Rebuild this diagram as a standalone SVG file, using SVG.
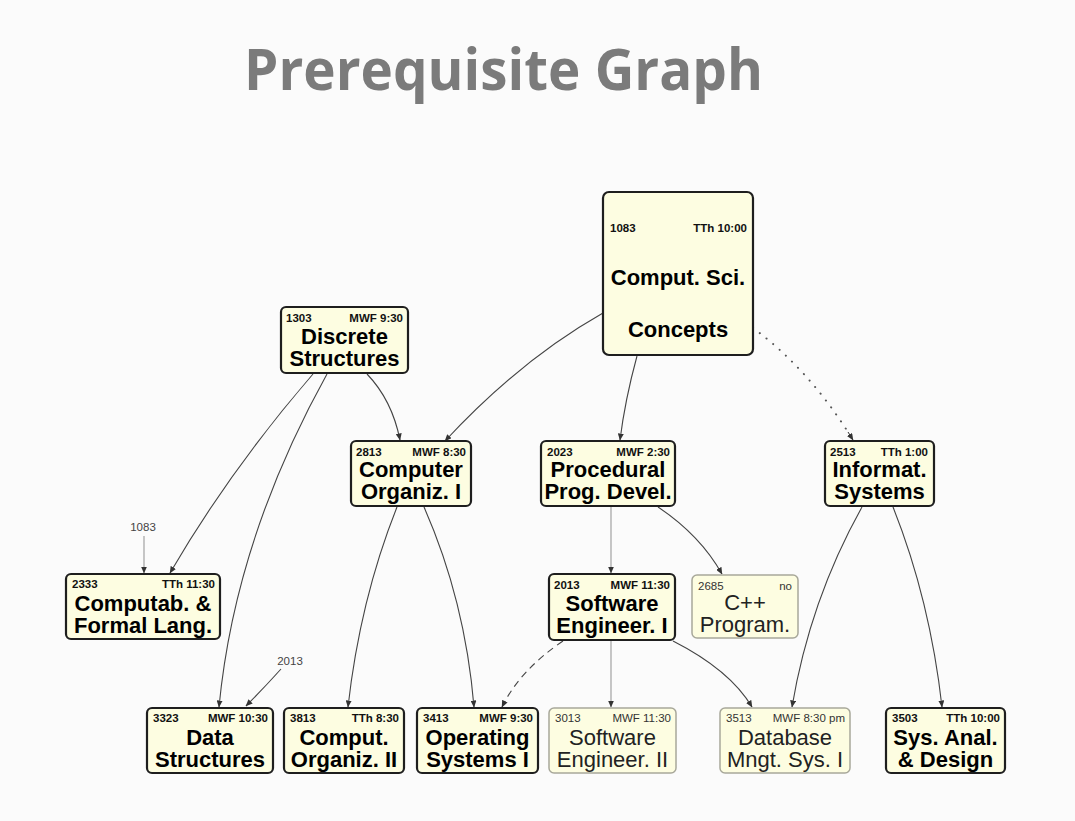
<svg xmlns="http://www.w3.org/2000/svg" width="1075" height="821" viewBox="0 0 1075 821">
<style>
.title{font-family:"Open Sans","DejaVu Sans",sans-serif;font-weight:bold;fill:#7b7b7b}
.box{fill:#fdfde1;stroke:#1e1e1e;stroke-width:2.2}
.lbox{fill:#fdfde1;stroke:#a8a89a;stroke-width:1.5}
.sm{font-family:"Liberation Sans",Arial,sans-serif;font-size:11.5px;font-weight:bold;fill:#111}
.lsm{font-family:"Liberation Sans",Arial,sans-serif;font-size:11.5px;fill:#333}
.big{font-family:"Liberation Sans",Arial,sans-serif;font-size:22px;font-weight:bold;fill:#000;text-anchor:middle}
.lbig{font-family:"Liberation Sans",Arial,sans-serif;font-size:22px;fill:#222;text-anchor:middle}
.end{text-anchor:end}
.e{fill:none;stroke:#444;stroke-width:1.1;marker-end:url(#ah)}
.g{fill:none;stroke:#9a9a9a;stroke-width:1.1;marker-end:url(#ah)}
.ext{font-family:"Liberation Sans",Arial,sans-serif;font-size:11.5px;fill:#444;text-anchor:middle}
</style>
<defs>
<marker id="ah" markerUnits="userSpaceOnUse" markerWidth="7" markerHeight="6" refX="6.5" refY="3" orient="auto">
<path d="M0,0 L7,3 L0,6 z" fill="#333"/>
</marker>
</defs>
<rect width="1075" height="821" fill="#fbfbfb"/>
<text class="title" x="244" y="90" font-size="58" textLength="519" lengthAdjust="spacingAndGlyphs">Prerequisite Graph</text>

<g id="connectors">
<path class="e" d="M603,313 Q520,360 445,441"/>
<path class="e" d="M637,356 Q625,400 620,440"/>
<path fill="none" stroke="#555" stroke-width="2" stroke-linecap="round" stroke-dasharray="0.1 8.5" d="M753,328 Q810,370 853,440"/>
<path fill="none" stroke="#333" stroke-width="1" marker-end="url(#ah)" d="M848,432 L853,440"/>
<path class="e" d="M367,374 Q392,400 400,440"/>
<path class="e" d="M313,374 Q230,470 170,573"/>
<path class="e" d="M327,374 Q235,540 219,707"/>
<path class="e" d="M397,507 Q360,600 348,707"/>
<path class="e" d="M424,507 Q465,600 474,707"/>
<path class="g" d="M611,507 L611,573"/>
<path class="e" d="M658,507 Q700,535 722,574"/>
<path class="e" stroke-dasharray="7 5" d="M563,641 Q520,670 502,707"/>
<path class="g" d="M611,641 L611,707"/>
<path class="e" d="M673,641 Q730,670 752,707"/>
<path class="e" d="M862,507 Q810,600 792,707"/>
<path class="e" d="M893,507 Q930,600 942,707"/>
<path class="g" d="M144,536 L144,573"/>
<path class="e" d="M281,669 Q262,690 246,706"/>
</g>
<text class="ext" x="143" y="531">1083</text>
<text class="ext" x="290" y="665">2013</text>

<g id="n1083">
<rect class="box" x="603" y="192" width="150" height="163" rx="6"/>
<text class="sm" x="610" y="232">1083</text>
<text class="sm end" x="747" y="232">TTh 10:00</text>
<text class="big" x="678" y="285">Comput. Sci.</text>
<text class="big" x="678" y="337">Concepts</text>
</g>

<g id="n1303">
<rect class="box" x="281" y="307" width="127" height="66" rx="5"/>
<text class="sm" x="286" y="322">1303</text>
<text class="sm end" x="403" y="322">MWF 9:30</text>
<text class="big" x="344.5" y="344">Discrete</text>
<text class="big" x="344.5" y="366">Structures</text>
</g>

<g id="n2813">
<rect class="box" x="351" y="441" width="120" height="65" rx="5"/>
<text class="sm" x="356" y="456">2813</text>
<text class="sm end" x="466" y="456">MWF 8:30</text>
<text class="big" x="411" y="477">Computer</text>
<text class="big" x="411" y="499">Organiz. I</text>
</g>

<g id="n2023">
<rect class="box" x="541" y="441" width="134" height="65" rx="5"/>
<text class="sm" x="547" y="456">2023</text>
<text class="sm end" x="670" y="456">MWF 2:30</text>
<text class="big" x="608" y="477">Procedural</text>
<text class="big" x="608" y="499">Prog. Devel.</text>
</g>

<g id="n2513">
<rect class="box" x="825" y="441" width="109" height="65" rx="5"/>
<text class="sm" x="830" y="456">2513</text>
<text class="sm end" x="928" y="456">TTh 1:00</text>
<text class="big" x="879.5" y="477">Informat.</text>
<text class="big" x="879.5" y="499">Systems</text>
</g>

<g id="n2333">
<rect class="box" x="66" y="574" width="154" height="65" rx="5"/>
<text class="sm" x="72" y="588">2333</text>
<text class="sm end" x="215" y="588">TTh 11:30</text>
<text class="big" x="143" y="611">Computab. &amp;</text>
<text class="big" x="143" y="633">Formal Lang.</text>
</g>

<g id="n2013">
<rect class="box" x="549" y="574" width="126" height="66" rx="5"/>
<text class="sm" x="554" y="589">2013</text>
<text class="sm end" x="670" y="589">MWF 11:30</text>
<text class="big" x="612" y="611">Software</text>
<text class="big" x="612" y="633">Engineer. I</text>
</g>

<g id="n2685">
<rect class="lbox" x="692" y="575" width="106" height="63" rx="5"/>
<text class="lsm" x="698" y="590">2685</text>
<text class="lsm end" x="792" y="590">no</text>
<text class="lbig" x="745" y="610">C++</text>
<text class="lbig" x="745" y="632">Program.</text>
</g>

<g id="n3323">
<rect class="box" x="147" y="708" width="126" height="65" rx="5"/>
<text class="sm" x="153" y="722">3323</text>
<text class="sm end" x="268" y="722">MWF 10:30</text>
<text class="big" x="210" y="745">Data</text>
<text class="big" x="210" y="767">Structures</text>
</g>

<g id="n3813">
<rect class="box" x="284" y="708" width="120" height="65" rx="5"/>
<text class="sm" x="290" y="722">3813</text>
<text class="sm end" x="399" y="722">TTh 8:30</text>
<text class="big" x="344" y="745">Comput.</text>
<text class="big" x="344" y="767">Organiz. II</text>
</g>

<g id="n3413">
<rect class="box" x="417" y="708" width="121" height="65" rx="5"/>
<text class="sm" x="423" y="722">3413</text>
<text class="sm end" x="533" y="722">MWF 9:30</text>
<text class="big" x="477.5" y="745">Operating</text>
<text class="big" x="477.5" y="767">Systems I</text>
</g>

<g id="n3013">
<rect class="lbox" x="549" y="708" width="127" height="65" rx="5"/>
<text class="lsm" x="555" y="722">3013</text>
<text class="lsm end" x="671" y="722">MWF 11:30</text>
<text class="lbig" x="612.5" y="745">Software</text>
<text class="lbig" x="612.5" y="767">Engineer. II</text>
</g>

<g id="n3513">
<rect class="lbox" x="720" y="708" width="130" height="65" rx="5"/>
<text class="lsm" x="726" y="722">3513</text>
<text class="lsm end" x="845" y="722">MWF 8:30 pm</text>
<text class="lbig" x="785" y="745">Database</text>
<text class="lbig" x="785" y="767">Mngt. Sys. I</text>
</g>

<g id="n3503">
<rect class="box" x="886" y="708" width="119" height="65" rx="5"/>
<text class="sm" x="892" y="722">3503</text>
<text class="sm end" x="1000" y="722">TTh 10:00</text>
<text class="big" x="945.5" y="745">Sys. Anal.</text>
<text class="big" x="945.5" y="767">&amp; Design</text>
</g>
</svg>
